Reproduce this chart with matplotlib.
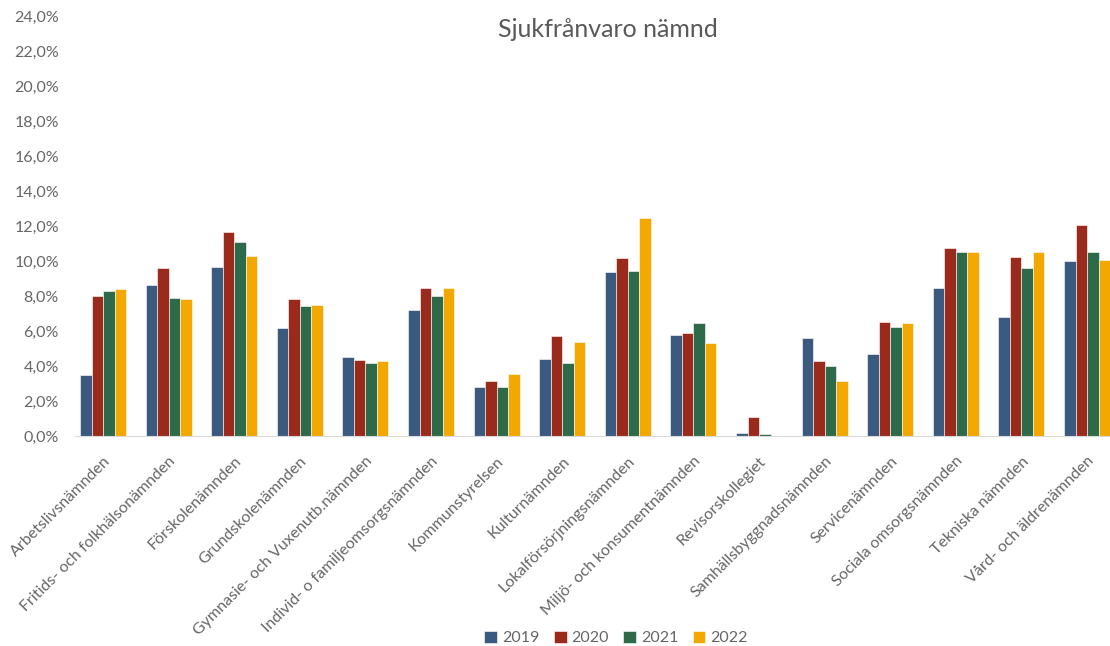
import numpy as np
import matplotlib.pyplot as plt
from matplotlib.ticker import FuncFormatter

plt.rcParams['font.family'] = ['Lato', 'DejaVu Sans']

categories = [
    "Arbetslivsnämnden", "Fritids- och folkhälsonämnden", "Förskolenämnden",
    "Grundskolenämnden", "Gymnasie- och Vuxenutb.nämnden",
    "Individ- o familjeomsorgsnämnden", "Kommunstyrelsen", "Kulturnämnden",
    "Lokalförsörjningsnämnden", "Miljö- och konsumentnämnden", "Revisorskollegiet",
    "Samhällsbyggnadsnämnden", "Servicenämnden", "Sociala omsorgsnämnden",
    "Tekniska nämnden", "Vård- och äldrenämnden",
]
years = ["2019", "2020", "2021", "2022"]

v2019 = [3.5, 8.65, 9.7, 6.2, 4.5, 7.2, 2.8, 4.4, 9.4, 5.8, 0.2, 5.6, 4.7, 8.45, 6.8, 10.0]
v2020 = [8.0, 9.6, 11.7, 7.85, 4.35, 8.5, 3.15, 5.7, 10.2, 5.9, 1.1, 4.3, 6.55, 10.75, 10.25, 12.1]
v2021 = [8.3, 7.9, 11.1, 7.45, 4.2, 8.0, 2.8, 4.2, 9.45, 6.5, 0.1, 4.0, 6.25, 10.55, 9.6, 10.55]
v2022 = [8.4, 7.85, 10.3, 7.5, 4.3, 8.45, 3.55, 5.4, 12.5, 5.35, 0.0, 3.15, 6.5, 10.55, 10.55, 10.1]

colors = ["#3b5a80", "#9a2b1c", "#2d6a4a", "#f2a800"]

fig = plt.figure(figsize=(11.1, 6.46), dpi=100)
ax = fig.add_axes([0.068, 0.325, 0.932, 0.649])

x = np.arange(len(categories))
w = 0.175
for i, (vals, yr) in enumerate(zip([v2019, v2020, v2021, v2022], years)):
    ax.bar(x + (i - 1.5) * w, vals, width=w, color=colors[i], label=yr,
           edgecolor="white", linewidth=0.4)

ax.set_ylim(0, 24)
ax.set_yticks(np.arange(0, 25, 2))
ax.yaxis.set_major_formatter(FuncFormatter(lambda v, p: f"{v:.1f}%".replace(".", ",")))
ax.set_xlim(-0.42, 15.35)
ax.set_xticks(x)
ax.set_xticklabels(categories, rotation=45, ha="right", rotation_mode="anchor")

for s in ["top", "right", "left"]:
    ax.spines[s].set_visible(False)
ax.spines["bottom"].set_color("#d9d9d9")
ax.tick_params(axis="both", length=0, colors="#666666", labelsize=11.5)
ax.tick_params(axis="x", pad=13)
ax.tick_params(axis="y", pad=12)

fig.text(0.548, 0.955, "Sjukfrånvaro nämnd", ha="center", va="center",
         fontsize=18, color="#595959")

fig.legend(loc="lower center", bbox_to_anchor=(0.555, -0.021), ncol=4,
           frameon=False, fontsize=11.5, handlelength=0.8, handleheight=0.8,
           columnspacing=0.9, handletextpad=0.3, labelcolor="#666666")

fig.savefig("out.png", dpi=100)
